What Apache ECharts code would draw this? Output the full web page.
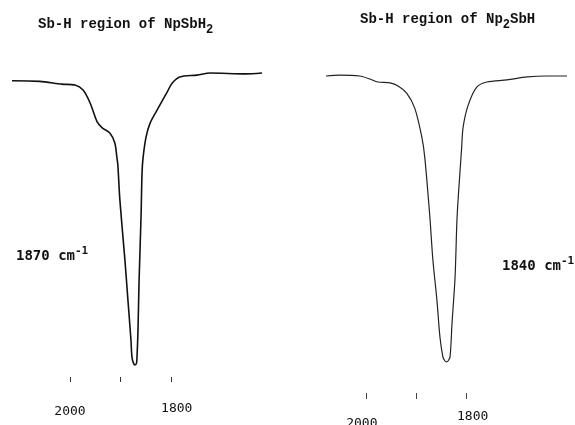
<!DOCTYPE html>
<html>
<head>
<meta charset="utf-8">
<script src="https://cdn.jsdelivr.net/npm/echarts@6/dist/echarts.min.js"></script>
<style>
  html, body { margin: 0; padding: 0; background: #fff; }
  #main { width: 575px; height: 425px; }
</style>
</head>
<body>
<div id="main"></div>
<script>
// wavenumber (cm-1) and % transmittance
var wnA = [2115, 2060, 2016, 1990, 1974, 1960, 1946, 1936, 1921, 1911, 1907, 1905, 1901, 1891, 1885, 1879, 1877, 1874, 1871, 1868, 1867, 1865, 1863, 1859, 1857, 1855, 1849, 1841, 1827, 1807, 1797, 1782, 1748, 1722, 1652, 1619];
var tA  = [96.4, 96.2, 95.3, 95.0, 93.3, 89.0, 82.7, 80.7, 79.0, 75.7, 71.0, 68.3, 56.7, 36.7, 23.3, 10.0, 4.3, 2.3, 1.7, 2.3, 4.3, 13.3, 29.0, 51.0, 65.7, 70.7, 77.7, 82.3, 86.7, 92.7, 95.7, 97.7, 98.3, 99.0, 98.7, 99.0];

var wnB = [2079, 2052, 2012, 1992, 1976, 1952, 1936, 1919, 1903, 1889, 1883, 1873, 1867, 1859, 1853, 1847, 1843, 1840, 1837, 1833, 1829, 1823, 1819, 1813, 1810, 1807, 1797, 1780, 1760, 1720, 1680, 1641, 1601];
var tB  = [98.0, 98.3, 98.0, 97.0, 96.0, 95.7, 94.7, 92.3, 87.3, 77.7, 70.7, 51.0, 36.7, 23.3, 11.0, 4.3, 3.0, 2.7, 3.0, 4.3, 15.7, 31.0, 51.0, 66.7, 74.0, 81.0, 88.3, 94.3, 96.0, 96.7, 97.7, 98.0, 98.0];

var ticks = [2000, 1900, 1800];
var tickLabels = [2000, 1800];

function pairs(x, y) {
    var out = [];
    for (var i = 0; i < x.length; i++) out.push([x[i], y[i]]);
    return out;
}

var mono = 'DejaVu Sans Mono';
var typewriter = 'Liberation Mono';

var titleRich = {
    m: { fontFamily: typewriter, fontSize: 14, fontWeight: 'bold', color: '#111', lineHeight: 16, verticalAlign: 'top' },
    s: { fontFamily: typewriter, fontSize: 12, fontWeight: 'bold', color: '#111', lineHeight: 12, padding: [10, 0, 0, 0] }
};
var peakRich = {
    m: { fontFamily: mono, fontSize: 14, color: '#111', lineHeight: 15, padding: [6, 0, 0, 0] },
    s: { fontFamily: mono, fontSize: 11, color: '#111', lineHeight: 12, verticalAlign: 'top' }
};

var option = {
    animation: false,
    backgroundColor: '#fff',
    title: [
        { text: '{m|Sb-H region of NpSbH}{s|2}', left: 38, top: 17, padding: 0, textStyle: { rich: titleRich } },
        { text: '{m|Sb-H region of Np}{s|2}{m|SbH}', left: 360, top: 12, padding: 0, textStyle: { rich: titleRich } },
        { text: '{m|1870 cm}{s|-1}', left: 16, top: 246, padding: 0, textStyle: { rich: peakRich } },
        { text: '{m|1840 cm}{s|-1}', left: 502, top: 256, padding: 0, textStyle: { rich: peakRich } }
    ],
    // y = 0 sits at pixel 370 in both panels; grid bottoms carry the tick rows
    grid: [
        { left: 12, right: 313, top: 70, bottom: 48, outerBoundsMode: 'none' },
        { left: 326, right: 8, top: 70, bottom: 32, outerBoundsMode: 'none' }
    ],
    xAxis: [
        {
            gridIndex: 0, type: 'value', inverse: true, min: 1619, max: 2115,
            axisLine: { show: false, onZero: false },
            splitLine: { show: false },
            axisTick: { show: true, length: 5, customValues: ticks, lineStyle: { color: '#333', width: 1 } },
            axisLabel: {
                customValues: tickLabels, margin: 25,
                fontFamily: mono, fontSize: 13, color: '#111',
                formatter: function (v) { return v === 2000 ? '{lo|2000}' : '{r|' + v + '}'; },
                rich: {
                    lo: { fontFamily: mono, fontSize: 13, color: '#111', padding: [3, 0, 0, 0] },
                    r: { fontFamily: mono, fontSize: 13, color: '#111', padding: [0, 0, 0, 12] }
                }
            }
        },
        {
            gridIndex: 1, type: 'value', inverse: true, min: 1601, max: 2079,
            axisLine: { show: false, onZero: false },
            splitLine: { show: false },
            axisTick: { show: true, length: 6, customValues: ticks, lineStyle: { color: '#444', width: 1 } },
            axisLabel: {
                customValues: tickLabels, margin: 17,
                fontFamily: mono, fontSize: 13, color: '#111',
                formatter: function (v) { return v === 2000 ? '{lo|2000}' : '{r|' + v + '}'; },
                rich: {
                    lo: { fontFamily: mono, fontSize: 13, color: '#111', padding: [7, 8, 0, 0] },
                    r: { fontFamily: mono, fontSize: 13, color: '#111', padding: [0, 0, 0, 12] }
                }
            }
        }
    ],
    yAxis: [
        { gridIndex: 0, type: 'value', min: -7 / 3, max: 100, show: false },
        { gridIndex: 1, type: 'value', min: -23 / 3, max: 100, show: false }
    ],
    series: [
        {
            name: 'NpSbH2', type: 'line', xAxisIndex: 0, yAxisIndex: 0,
            data: pairs(wnA, tA), symbol: 'none', smooth: 0.3,
            lineStyle: { color: '#111', width: 1.6 }
        },
        {
            name: 'Np2SbH', type: 'line', xAxisIndex: 1, yAxisIndex: 1,
            data: pairs(wnB, tB), symbol: 'none', smooth: 0.3,
            lineStyle: { color: '#222', width: 1.2 }
        }
    ]
};

var chart = echarts.init(document.getElementById('main'));
chart.setOption(option);
</script>
</body>
</html>
